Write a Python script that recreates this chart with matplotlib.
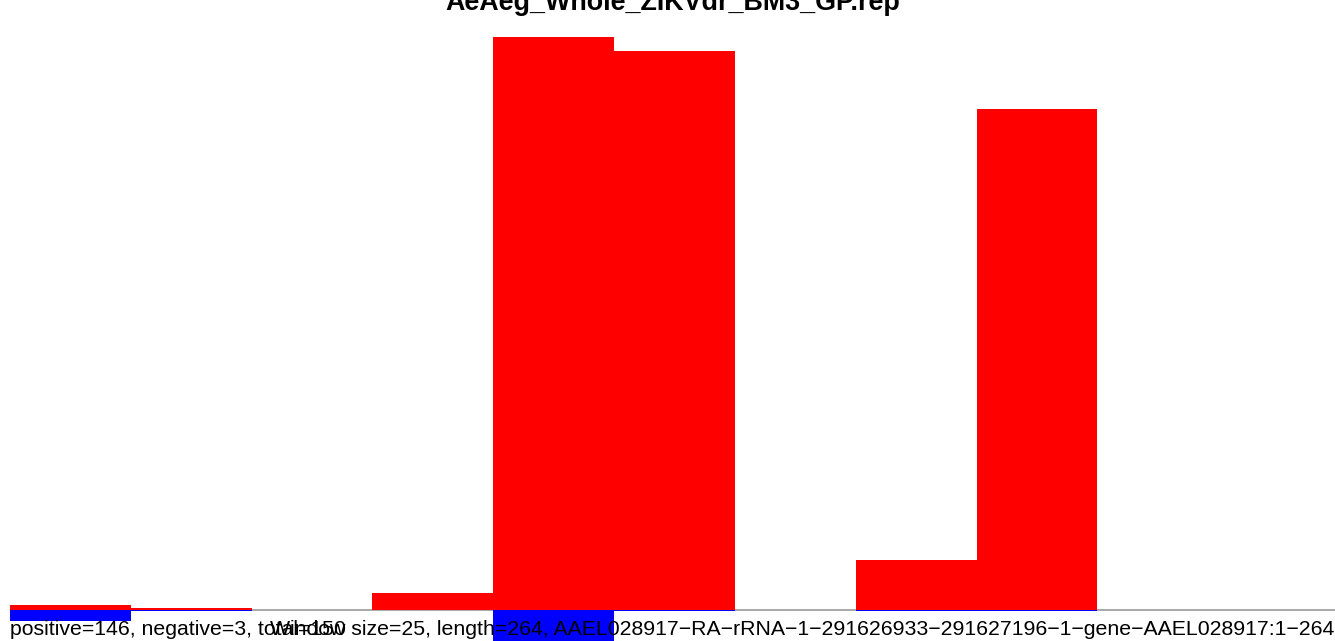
import numpy as np
import matplotlib
matplotlib.use('agg')
from matplotlib import pyplot as plt

plt.rcParams['font.family'] = ['Liberation Sans', 'DejaVu Sans']

# per-window read signal, 25 nt windows over a 264 nt locus
window_size = 25
window_start = np.arange(0, 275, window_size)
positive = [1.0, 0.4, 0.0, 3.4, 114.6, 111.8, 0.0, 10.0, 100.2, 0.0, 0.0]
negative = [-2.2, -0.2, 0.0, 0.0, -8.0, -0.2, 0.0, -0.2, -0.2, 0.0, 0.0]

title = 'AeAeg_Whole_ZIKVdr_BM3_GP.rep'
counts_text = 'positive=146, negative=3, total=150'
info_text = ('Window size=25, length=264, '
             'AAEL028917\u2212RA\u2212rRNA\u22121\u2212291626933\u2212291627196'
             '\u22121\u2212gene\u2212AAEL028917:1\u2212264')

W, H = 1335, 641
fig = plt.figure(figsize=(W / 100, H / 100), dpi=100)
ax = fig.add_axes([10 / W, 0, 1329 / W, (H - 30) / H])

ax.bar(window_start, positive, width=window_size, align='edge', color='red', linewidth=0)
ax.bar(window_start, negative, width=window_size, align='edge', color='blue', linewidth=0)
ax.axhline(0, color='#999999', linewidth=1.2, zorder=0)

ax.set_xlim(0, 275)
ax.set_ylim(-6.2, 116)
ax.axis('off')

fig.text(672.5 / W, 1 - 10 / H, title, ha='center', va='baseline',
         fontsize=19.4, fontweight='bold')
fig.text(10 / W, 1 - 635 / H, counts_text, ha='left', va='baseline', fontsize=15.3)
fig.text(270 / W, 1 - 635 / H, info_text, ha='left', va='baseline', fontsize=15.3)

fig.savefig('out.png', dpi=100)
